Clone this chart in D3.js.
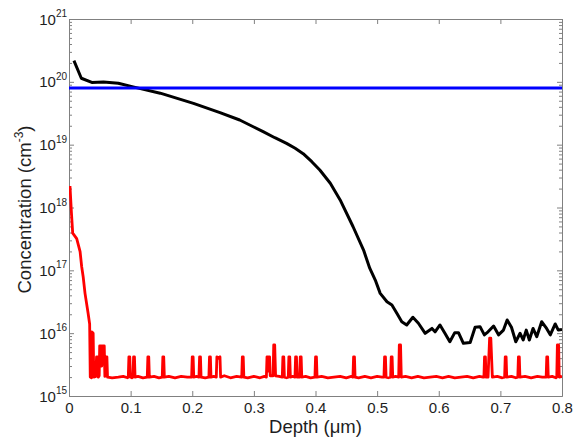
<!DOCTYPE html>
<html><head><meta charset="utf-8">
<script src="https://cdn.jsdelivr.net/npm/d3@7"></script>
<style>
body{margin:0;background:#fff}
text{font-family:"Liberation Sans",Arial,sans-serif;fill:#1e1e1e}
</style>
</head><body><svg id="c" width="577" height="437"></svg>
<script>
// ---------- data ----------
const xTicks = [0, 0.1, 0.2, 0.3, 0.4, 0.5, 0.6, 0.7, 0.8];
const xTickLabels = ["0", "0.1", "0.2", "0.3", "0.4", "0.5", "0.6", "0.7", "0.8"];
const yDecades = [15, 16, 17, 18, 19, 20, 21];
const xTitle = "Depth (\u03bcm)";
const yTitle = "Concentration (cm";
const blueLevel = 8e19;

// black profile: [depth (um), concentration (cm^-3)]
const blackProfile = [
  [0.008, 2.17e20], [0.020, 1.14e20], [0.037, 9.8e19], [0.056, 9.9e19], [0.080, 9.5e19],
  [0.104, 8.3e19], [0.148, 6.6e19], [0.202, 4.55e19], [0.245, 3.24e19], [0.277, 2.47e19],
  [0.299, 1.93e19], [0.315, 1.61e19], [0.334, 1.29e19], [0.353, 1.05e19], [0.367, 8.75e18],
  [0.380, 7.2e18], [0.394, 5.36e18], [0.407, 3.95e18], [0.424, 2.43e18],
  [0.440, 1.32e18], [0.461, 4.94e17], [0.478, 2.10e17], [0.488, 1.08e17], [0.497, 7.0e16],
  [0.505, 4.3e16], [0.516, 3.16e16], [0.524, 2.8e16], [0.532, 2.07e16], [0.540, 1.52e16],
  [0.548, 1.35e16], [0.558, 1.79e16], [0.567, 1.44e16], [0.578, 9.95e15], [0.589, 1.19e16],
  [0.594, 1.05e16], [0.602, 1.35e16], [0.610, 9.95e15], [0.618, 7.3e15], [0.626, 1.02e16],
  [0.632, 1.02e16], [0.640, 6.9e15], [0.651, 7.1e15], [0.659, 1.24e16], [0.667, 1.27e16],
  [0.674, 9.4e15], [0.680, 1.05e16], [0.689, 1.30e16], [0.697, 9.4e15], [0.705, 1.12e16],
  [0.711, 1.62e16], [0.718, 1.24e16], [0.725, 7.3e15], [0.732, 9.95e15], [0.737, 7.8e15],
  [0.742, 1.12e16], [0.747, 7.8e15], [0.753, 1.19e16], [0.759, 8.8e15], [0.767, 1.52e16],
  [0.775, 1.19e16], [0.781, 9.4e15], [0.789, 1.40e16], [0.794, 1.12e16], [0.800, 1.15e16]
];

// red profile: [depth (um), concentration (cm^-3)]
const redProfile = [
  [0.0016, 2.2e18], [0.004, 8.1e17], [0.006, 3.9e17], [0.0125, 3.2e17], [0.018, 1.98e17],
  [0.0206, 1.14e17], [0.023, 7.9e16], [0.026, 4.3e16], [0.031, 2.07e16], [0.0335, 1.4e16],
  [0.0345, 2.0e15], [0.0365, 1.95e15], [0.0372, 1.05e16], [0.0392, 1.0e16], [0.0402, 2.0e15],
  [0.0435, 2.05e15], [0.0447, 4.2e15], [0.0463, 4.2e15], [0.0475, 2.0e15], [0.0490, 2.1e15],
  [0.0498, 6.3e15], [0.0525, 6.3e15], [0.0532, 3.0e15], [0.0545, 6.3e15], [0.0572, 6.3e15],
  [0.0582, 2.05e15], [0.0600, 4.2e15], [0.0615, 4.2e15], [0.0625, 2.0e15], [0.070, 1.95e15],
  [0.080, 2.0e15], [0.088, 2.05e15], [0.095, 1.95e15],
  [0.0962, 2.0e15], [0.0972, 4.2e15], [0.0986, 4.2e15], [0.0996, 2.0e15], [0.102, 1.95e15],
  [0.1038, 2.0e15], [0.1048, 4.2e15], [0.1062, 4.2e15], [0.1072, 2.0e15],
  [0.112, 2.05e15], [0.120, 1.95e15],
  [0.1270, 2.0e15], [0.1280, 4.2e15], [0.1294, 4.2e15], [0.1304, 2.0e15],
  [0.138, 2.05e15], [0.146, 1.95e15],
  [0.1513, 2.0e15], [0.1523, 4.2e15], [0.1537, 4.2e15], [0.1547, 2.0e15],
  [0.162, 2.05e15], [0.172, 1.95e15], [0.182, 2.05e15], [0.192, 2.0e15],
  [0.1990, 2.0e15], [0.2000, 4.2e15], [0.2014, 4.2e15], [0.2024, 2.0e15], [0.207, 2.05e15],
  [0.2109, 2.0e15], [0.2119, 4.2e15], [0.2133, 4.2e15], [0.2143, 2.0e15], [0.221, 1.95e15],
  [0.2270, 2.0e15], [0.2280, 4.2e15], [0.2294, 4.2e15], [0.2304, 2.0e15], [0.235, 2.05e15],
  [0.2390, 2.0e15], [0.2400, 4.2e15], [0.2425, 4.0e15], [0.2450, 4.2e15], [0.2460, 2.0e15],
  [0.252, 2.1e15], [0.262, 1.95e15], [0.272, 2.05e15],
  [0.2803, 2.0e15], [0.2813, 4.2e15], [0.2827, 4.2e15], [0.2837, 2.0e15],
  [0.290, 1.95e15], [0.300, 2.05e15], [0.310, 1.95e15], [0.317, 2.05e15],
  [0.3203, 2.0e15], [0.3213, 4.2e15], [0.3223, 4.2e15], [0.3232, 2.5e15],
  [0.3242, 4.2e15], [0.3255, 4.2e15], [0.3265, 2.1e15],
  [0.3312, 2.1e15], [0.3322, 6.5e15], [0.3338, 6.5e15], [0.3352, 2.1e15], [0.341, 2.05e15],
  [0.3461, 2.0e15], [0.3471, 4.2e15], [0.3485, 4.2e15], [0.3495, 2.0e15], [0.353, 1.95e15],
  [0.3558, 2.0e15], [0.3568, 4.2e15], [0.3582, 4.2e15], [0.3592, 2.0e15], [0.363, 2.05e15],
  [0.3667, 2.0e15], [0.3677, 4.2e15], [0.3691, 4.2e15], [0.3701, 2.0e15],
  [0.3743, 2.0e15], [0.3753, 4.2e15], [0.3767, 4.2e15], [0.3777, 2.0e15],
  [0.384, 2.05e15], [0.392, 1.95e15],
  [0.3991, 2.0e15], [0.4001, 4.2e15], [0.4015, 4.2e15], [0.4025, 2.0e15],
  [0.410, 2.05e15], [0.420, 1.95e15], [0.430, 2.0e15], [0.440, 2.05e15], [0.450, 1.95e15], [0.458, 2.05e15],
  [0.4608, 2.0e15], [0.4618, 4.2e15], [0.4632, 4.2e15], [0.4642, 2.0e15],
  [0.470, 1.95e15], [0.480, 2.05e15], [0.490, 1.95e15], [0.500, 2.05e15], [0.508, 2.0e15],
  [0.5111, 2.0e15], [0.5121, 4.2e15], [0.5135, 4.2e15], [0.5145, 2.0e15], [0.518, 1.95e15],
  [0.5219, 2.0e15], [0.5229, 4.2e15], [0.5243, 4.2e15], [0.5253, 2.0e15], [0.530, 2.05e15],
  [0.5350, 2.0e15], [0.5360, 6.5e15], [0.5380, 6.5e15], [0.5392, 2.0e15],
  [0.546, 2.05e15], [0.556, 1.95e15], [0.566, 2.05e15], [0.576, 1.95e15], [0.586, 2.0e15],
  [0.596, 2.05e15], [0.606, 1.95e15], [0.616, 2.05e15], [0.626, 1.95e15], [0.636, 2.0e15],
  [0.646, 2.05e15], [0.656, 1.95e15], [0.666, 2.05e15], [0.672, 2.0e15],
  [0.6733, 2.0e15], [0.6743, 4.2e15], [0.6757, 4.2e15], [0.6767, 2.0e15],
  [0.6800, 2.0e15], [0.6825, 8.3e15], [0.6845, 8.3e15], [0.6870, 2.0e15],
  [0.695, 2.05e15], [0.703, 1.95e15],
  [0.7069, 2.0e15], [0.7079, 4.2e15], [0.7093, 4.2e15], [0.7103, 2.0e15],
  [0.718, 2.05e15], [0.725, 1.95e15],
  [0.7283, 2.0e15], [0.7293, 4.2e15], [0.7307, 4.2e15], [0.7317, 2.0e15],
  [0.740, 2.05e15], [0.750, 1.95e15], [0.760, 2.05e15], [0.768, 2.0e15],
  [0.7743, 2.0e15], [0.7753, 4.2e15], [0.7767, 4.2e15], [0.7777, 2.0e15],
  [0.784, 2.05e15], [0.790, 1.95e15],
  [0.7915, 2.0e15], [0.7925, 6.5e15], [0.7945, 6.5e15], [0.7955, 2.0e15], [0.800, 2.05e15]
];

// ---------- chart ----------
const L = 69, R = 562, T = 19, B = 396;
const svg = d3.select("#c");
const x = d3.scaleLinear().domain([0, 0.8]).range([L, R]);
const y = d3.scaleLog().domain([1e15, 1e21]).range([B, T]);
const frameColor = "#808080";

const majors = yDecades.map(k => Math.pow(10, k));
const minors = [];
yDecades.slice(0, -1).forEach(k => { for (let m = 2; m <= 9; m++) minors.push(m * Math.pow(10, k)); });

function styleAxis(g) {
  g.select(".domain").attr("stroke", frameColor);
  g.selectAll(".tick line").attr("stroke", frameColor);
}

const gB = svg.append("g").attr("transform", `translate(0,${B})`)
  .call(d3.axisBottom(x).tickValues(xTicks).tickSize(-5).tickSizeOuter(0).tickPadding(6)
    .tickFormat((d, i) => xTickLabels[i]));
styleAxis(gB);
gB.selectAll(".tick text").attr("font-size", 15).attr("font-family", "Liberation Sans, Arial, sans-serif").attr("fill", "#1e1e1e");

const gT = svg.append("g").attr("transform", `translate(0,${T})`)
  .call(d3.axisTop(x).tickValues(xTicks).tickSize(-5).tickSizeOuter(0).tickFormat(""));
styleAxis(gT);

const gL = svg.append("g").attr("transform", `translate(${L},0)`)
  .call(d3.axisLeft(y).tickValues(majors).tickSize(-5).tickSizeOuter(0).tickFormat(""));
styleAxis(gL);
const gLm = svg.append("g").attr("transform", `translate(${L},0)`)
  .call(d3.axisLeft(y).tickValues(minors).tickSize(-3).tickSizeOuter(0).tickFormat(""));
styleAxis(gLm);

const gR = svg.append("g").attr("transform", `translate(${R},0)`)
  .call(d3.axisRight(y).tickValues(majors).tickSize(-5).tickSizeOuter(0).tickFormat(""));
styleAxis(gR);
const gRm = svg.append("g").attr("transform", `translate(${R},0)`)
  .call(d3.axisRight(y).tickValues(minors).tickSize(-3).tickSizeOuter(0).tickFormat(""));
styleAxis(gRm);

const yl = svg.append("g");
yDecades.forEach(k => {
  const t = yl.append("text").attr("x", 67).attr("y", y(Math.pow(10, k)) + 5.5)
    .attr("text-anchor", "end");
  t.append("tspan").attr("font-size", 15).text("10");
  t.append("tspan").attr("font-size", 10).attr("dy", -7.5).text(String(k));
});

svg.append("clipPath").attr("id", "clip").append("rect")
  .attr("x", L).attr("y", T).attr("width", R - L).attr("height", B - T);

const line = d3.line().x(d => x(d[0])).y(d => y(d[1]));
const plot = svg.append("g").attr("clip-path", "url(#clip)");

plot.append("path").datum(redProfile).attr("d", line)
  .attr("fill", "none").attr("stroke", "#ff0000").attr("stroke-width", 2.8)
  .attr("stroke-linejoin", "round");
plot.append("path").datum(blackProfile).attr("d", line)
  .attr("fill", "none").attr("stroke", "#000").attr("stroke-width", 3)
  .attr("stroke-linejoin", "round");
plot.append("path").datum([[0, blueLevel], [0.8, blueLevel]]).attr("d", line)
  .attr("fill", "none").attr("stroke", "#0000ff").attr("stroke-width", 3);

svg.append("text").attr("x", (L + R) / 2).attr("y", 433).attr("text-anchor", "middle")
  .attr("font-size", 18.5).text(xTitle);

const yt = svg.append("text").attr("transform", `translate(31,${(T + B) / 2 + 2}) rotate(-90)`)
  .attr("text-anchor", "middle").attr("font-size", 18.5);
yt.append("tspan").text(yTitle);
yt.append("tspan").attr("font-size", 12).attr("dy", -8).text("-3");
yt.append("tspan").attr("dy", 8).text(")");
</script>
</body></html>
